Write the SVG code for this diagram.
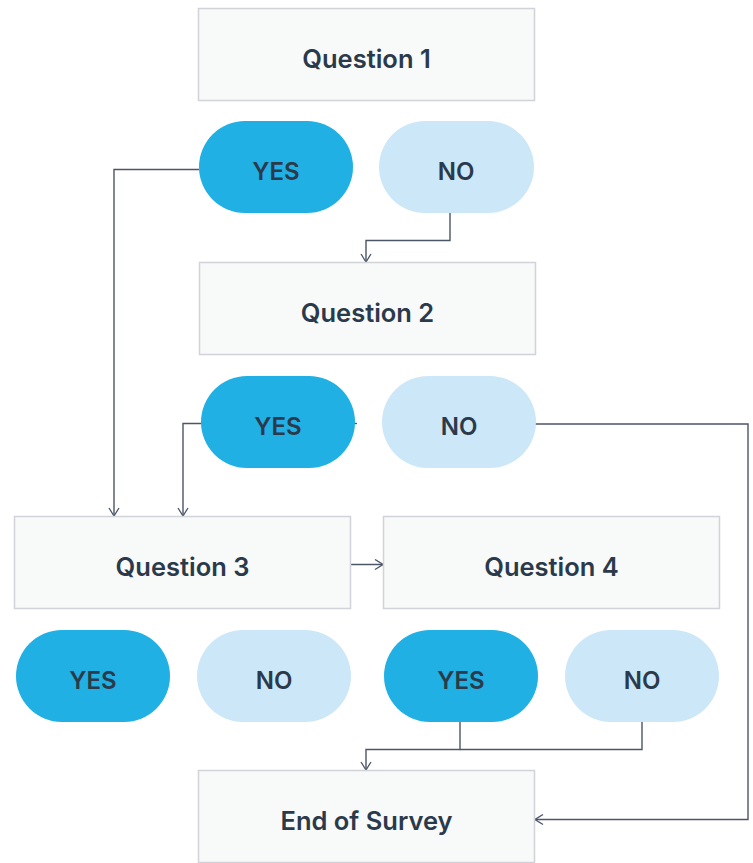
<svg xmlns="http://www.w3.org/2000/svg" width="753" height="863" viewBox="0 0 753 863">
<style>
.box{fill:#f8f9f9;stroke:#d1d3d8;stroke-width:1.5}
.yes{fill:#20b0e4}
.no{fill:#cce7f7}
.t{font-family:Inter,"Noto Sans","Liberation Sans",sans-serif;font-weight:600;fill:#2b3a4b;text-anchor:middle;dominant-baseline:central}
.q{font-size:25.5px}
.p{font-size:24px}
.c{fill:none;stroke:#4b5667;stroke-width:1.4}
</style>
<defs>
<marker id="arr" viewBox="0 0 12 12" refX="11" refY="6" markerWidth="12" markerHeight="12" markerUnits="userSpaceOnUse" orient="auto">
<path d="M3,1 L11,6 L3,11" fill="none" stroke="#4b5667" stroke-width="1.3"/>
</marker>
</defs>
<rect width="753" height="863" fill="#ffffff"/>
<g id="connectors">
<path class="c" d="M199,169.5 H114 V516" marker-end="url(#arr)"/>
<path class="c" d="M450,213 V240.5 H366 V262" marker-end="url(#arr)"/>
<path class="c" d="M202,423.5 H183 V516" marker-end="url(#arr)"/>
<path class="c" d="M354,423.5 H357"/>
<path class="c" d="M535,424 H748 V819.5 H535" marker-end="url(#arr)"/>
<path class="c" d="M350,564.5 H383" marker-end="url(#arr)"/>
<path class="c" d="M460,722 V749.5 H366 V770" marker-end="url(#arr)"/>
<path class="c" d="M642,722 V749.5 H460"/>
</g>
<g id="q1"><rect class="box" x="198.5" y="8.5" width="336" height="92"/><text class="t q" x="366.5" y="58.5">Question 1</text></g>
<g id="yes1"><rect class="yes" x="199" y="121" width="154" height="92" rx="46"/><text class="t p" x="276" y="171.5">YES</text></g>
<g id="no1"><rect class="no" x="379" y="121" width="155" height="92" rx="46"/><text class="t p" x="456" y="171.5">NO</text></g>
<g id="q2"><rect class="box" x="199.5" y="262.5" width="336" height="92"/><text class="t q" x="367.5" y="312.5">Question 2</text></g>
<g id="yes2"><rect class="yes" x="201" y="376" width="154" height="92" rx="46"/><text class="t p" x="278" y="426.5">YES</text></g>
<g id="no2"><rect class="no" x="382" y="376" width="154" height="92" rx="46"/><text class="t p" x="459" y="426.5">NO</text></g>
<g id="q3"><rect class="box" x="14.5" y="516.5" width="336" height="92"/><text class="t q" x="182.5" y="566.5">Question 3</text></g>
<g id="q4"><rect class="box" x="383.5" y="516.5" width="336" height="92"/><text class="t q" x="551.5" y="566.5">Question 4</text></g>
<g id="yes3"><rect class="yes" x="16" y="630" width="154" height="92" rx="46"/><text class="t p" x="93" y="680.5">YES</text></g>
<g id="no3"><rect class="no" x="197" y="630" width="154" height="92" rx="46"/><text class="t p" x="274" y="680.5">NO</text></g>
<g id="yes4"><rect class="yes" x="384" y="630" width="154" height="92" rx="46"/><text class="t p" x="461" y="680.5">YES</text></g>
<g id="no4"><rect class="no" x="565" y="630" width="154" height="92" rx="46"/><text class="t p" x="642" y="680.5">NO</text></g>
<g id="end"><rect class="box" x="198.5" y="770.5" width="336" height="92"/><text class="t q" x="366.5" y="820.5">End of Survey</text></g>
</svg>
